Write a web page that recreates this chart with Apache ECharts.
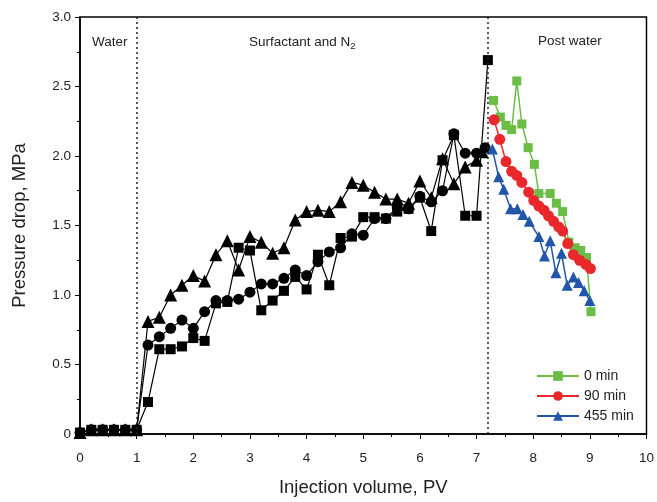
<!DOCTYPE html>
<html><head><meta charset="utf-8">
<script src="https://cdn.jsdelivr.net/npm/echarts@6/dist/echarts.min.js"></script>
<style>html,body{margin:0;padding:0;background:#fff}#c{width:657px;height:502px}</style>
</head><body><div id="c"></div>
<script>
// Surfactant + N2 phase (black series)
const sqX = [0,0.2,0.4,0.6,0.8,1.0,1.2,1.4,1.6,1.8,2.0,2.2,2.4,2.6,2.8,3.0,3.2,3.4,3.6,3.8,4.0,4.2,4.4,4.6,4.8,5.0,5.2,5.4,5.6,5.8,6.0,6.2,6.4,6.6,6.8,7.0,7.2];
const sqY = [0.01,0.03,0.03,0.03,0.03,0.03,0.23,0.61,0.61,0.63,0.69,0.67,0.94,0.95,1.34,1.32,0.89,0.96,1.03,1.13,1.04,1.29,1.07,1.41,1.42,1.56,1.56,1.55,1.60,1.62,1.70,1.46,1.97,2.15,1.57,1.57,2.69];
const ciX = [0,0.2,0.4,0.6,0.8,1.0,1.2,1.4,1.6,1.8,2.0,2.2,2.4,2.6,2.8,3.0,3.2,3.4,3.6,3.8,4.0,4.2,4.4,4.6,4.8,5.0,5.2,5.4,5.6,5.8,6.0,6.2,6.4,6.6,6.8,7.0,7.15];
const ciY = [0.01,0.03,0.03,0.03,0.03,0.03,0.64,0.70,0.76,0.82,0.76,0.88,0.96,0.96,0.97,1.02,1.08,1.08,1.12,1.18,1.14,1.24,1.31,1.34,1.44,1.43,1.55,1.55,1.63,1.62,1.71,1.67,1.75,2.16,2.02,2.02,2.06];
const trX = [0,0.2,0.4,0.6,0.8,1.0,1.2,1.4,1.6,1.8,2.0,2.2,2.4,2.6,2.8,3.0,3.2,3.4,3.6,3.8,4.0,4.2,4.4,4.6,4.8,5.0,5.2,5.4,5.6,5.8,6.0,6.2,6.4,6.6,6.8,7.0,7.1];
const trY = [0.01,0.03,0.03,0.03,0.03,0.03,0.81,0.84,1.00,1.07,1.14,1.10,1.29,1.39,1.18,1.42,1.38,1.30,1.34,1.54,1.60,1.61,1.60,1.67,1.81,1.79,1.74,1.69,1.69,1.66,1.82,1.70,1.98,1.80,1.92,1.97,2.03];
// Post water phase
const gX = [7.3,7.42,7.52,7.62,7.71,7.8,7.91,8.02,8.1,8.3,8.41,8.52,8.63,8.74,8.84,8.94,9.02];
const gY = [2.40,2.28,2.22,2.19,2.54,2.23,2.06,1.94,1.73,1.73,1.66,1.60,1.38,1.34,1.32,1.27,0.88];
const rX = [7.31,7.41,7.52,7.62,7.71,7.8,7.92,8.01,8.1,8.19,8.27,8.36,8.45,8.52,8.61,8.71,8.82,8.93,9.01];
const rY = [2.26,2.12,1.96,1.89,1.86,1.81,1.74,1.68,1.64,1.61,1.57,1.53,1.49,1.46,1.37,1.29,1.25,1.22,1.19];
const bX = [7.28,7.39,7.48,7.6,7.72,7.82,7.93,8.1,8.2,8.3,8.4,8.5,8.6,8.71,8.8,8.9,9.0];
const bY = [2.05,1.85,1.76,1.62,1.62,1.58,1.53,1.42,1.28,1.39,1.16,1.30,1.07,1.13,1.09,1.03,0.96];
const seriesNames = ['0 min','90 min','455 min'];
const phaseBounds = [1.0, 7.2];

const zip = (xs, ys) => xs.map((x, i) => [x, ys[i]]);
const FONT = 'Liberation Sans, Arial, sans-serif';
const chart = echarts.init(document.getElementById('c'), null, {renderer: 'canvas'});

function blackSeries(name, sym, size, xs, ys) {
  return {
    name: name, type: 'line', data: zip(xs, ys), symbol: sym, symbolSize: size,
    lineStyle: {color: '#000', width: 1.2}, itemStyle: {color: '#000'},
    showAllSymbol: true, z: 3, animation: false
  };
}
function colorSeries(name, sym, size, color, xs, ys) {
  return {
    name: name, type: 'line', data: zip(xs, ys), symbol: sym, symbolSize: size,
    lineStyle: {color: color, width: 1.5}, itemStyle: {color: color},
    showAllSymbol: true, z: 4, animation: false
  };
}

const s1 = blackSeries('sq', 'rect', 10, sqX, sqY);
s1.markLine = {
  silent: true, symbol: 'none', animation: false,
  lineStyle: {color: '#222', type: [2, 3], width: 1.5},
  label: {show: false},
  data: phaseBounds.map(v => ({xAxis: v}))
};

chart.setOption({
  animation: false,
  backgroundColor: '#fff',
  textStyle: {fontFamily: FONT},
  grid: {left: 80, right: 9, top: 17, bottom: 65, show: true, borderColor: '#000', borderWidth: 1.5},
  xAxis: {
    type: 'value', min: 0, max: 10, interval: 1,
    name: 'Injection volume, PV', nameLocation: 'middle', nameGap: 44,
    nameTextStyle: {fontSize: 18.5, color: '#222', fontFamily: FONT},
    axisLine: {lineStyle: {color: '#000', width: 1.5}},
    axisTick: {show: true, length: 5, lineStyle: {color: '#000'}},
    minorTick: {show: true, splitNumber: 2, length: 3, lineStyle: {color: '#000'}},
    splitLine: {show: false},
    axisLabel: {fontSize: 13.5, color: '#222', margin: 17, fontFamily: FONT}
  },
  yAxis: {
    type: 'value', min: 0, max: 3, interval: 0.5,
    name: 'Pressure drop, MPa', nameLocation: 'middle', nameGap: 51, nameRotate: 90,
    nameTextStyle: {fontSize: 18.5, color: '#222', fontFamily: FONT},
    axisLine: {show: true, lineStyle: {color: '#000', width: 1.5}},
    axisTick: {show: true, length: 5, lineStyle: {color: '#000'}},
    minorTick: {show: true, splitNumber: 2, length: 3, lineStyle: {color: '#000'}},
    splitLine: {show: false},
    axisLabel: {fontSize: 13.5, color: '#222', margin: 9, fontFamily: FONT,
      formatter: v => v === 0 ? '0' : v.toFixed(1)}
  },
  legend: {
    data: seriesNames, orient: 'vertical', left: 531, top: 364,
    itemWidth: 42, itemHeight: 12, itemGap: 6,
    textStyle: {fontSize: 14, color: '#222', fontFamily: FONT}
  },
  graphic: [
    {type: 'text', left: 92, top: 35, style: {text: 'Water', fontSize: 13.5, fill: '#222', fontFamily: FONT}},
    {type: 'text', left: 249, top: 35, style: {
      text: 'Surfactant and N{sub|2}', fontSize: 13.5, fill: '#222', fontFamily: FONT,
      rich: {sub: {fontSize: 9.5, verticalAlign: 'bottom', padding: [8, 0, 0, 0], fill: '#222', fontFamily: FONT}}
    }},
    {type: 'text', left: 538, top: 34, style: {text: 'Post water', fontSize: 13.5, fill: '#222', fontFamily: FONT}}
  ],
  series: [
    s1,
    blackSeries('ci', 'circle', 11, ciX, ciY),
    blackSeries('tr', 'triangle', 13, trX, trY),
    colorSeries(seriesNames[0], 'rect', 9, '#6abd45', gX, gY),
    colorSeries(seriesNames[1], 'circle', 11, '#e8282b', rX, rY),
    colorSeries(seriesNames[2], 'triangle', 11, '#2156a8', bX, bY)
  ]
});
</script></body></html>
